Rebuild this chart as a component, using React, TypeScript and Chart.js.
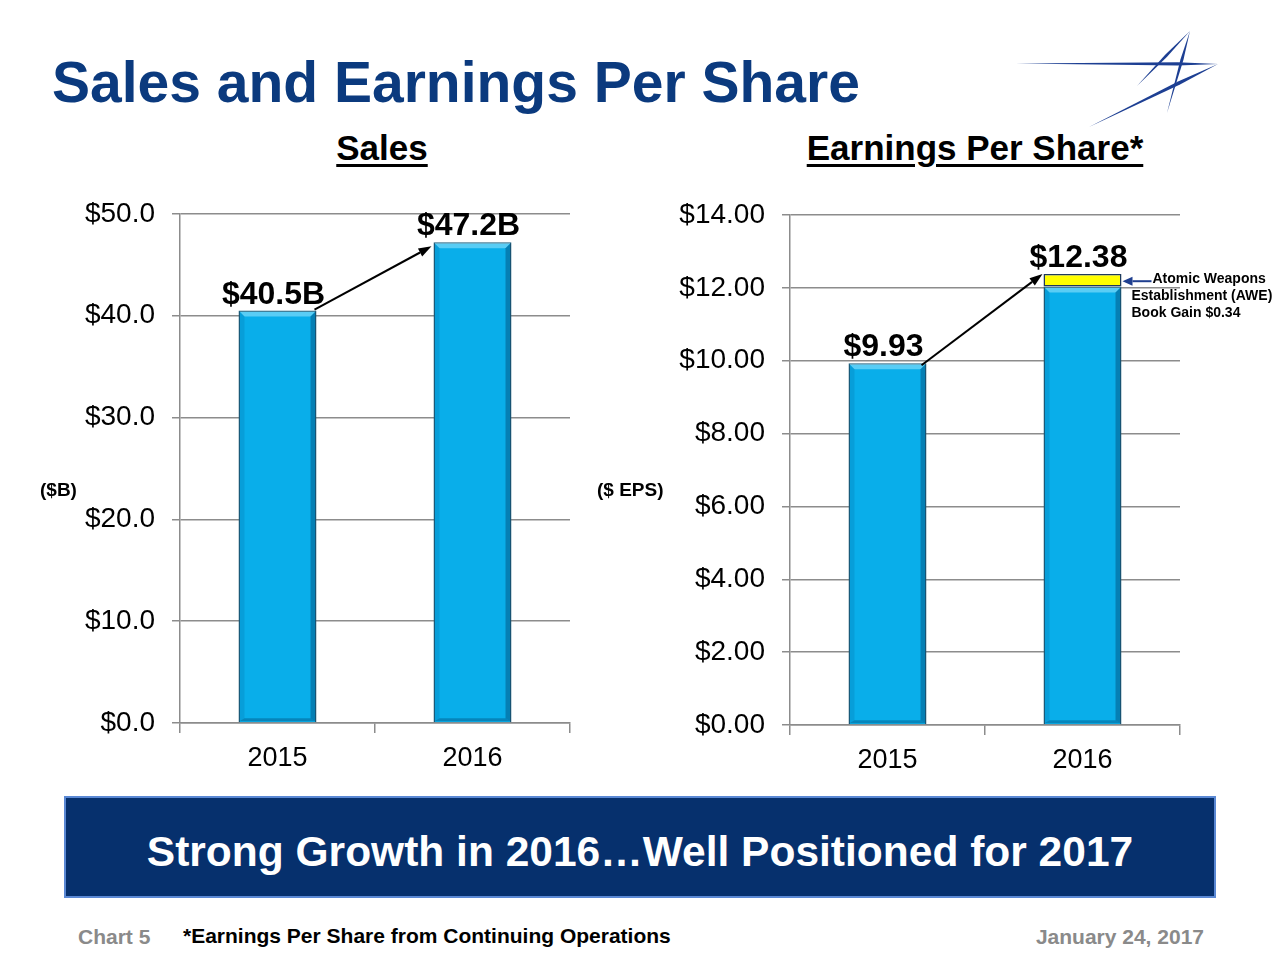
import React, { useEffect, useRef } from 'react';
import { Chart, registerables } from 'chart.js';

Chart.register(...registerables);

const FONT = '"Liberation Sans", Arial, Helvetica, sans-serif';

// ---- Sales data ----
const salesYears = ['2015', '2016'];
const salesValues = [40.5, 47.2];
const salesValueLabels = ['$40.5B', '$47.2B'];
const salesAxisMin = 0;
const salesAxisMax = 50;
const salesAxisStep = 10;

// ---- EPS data ----
const epsYears = ['2015', '2016'];
const epsOperating = [9.93, 12.04];
const epsAweGain = [null, 0.34];
const epsValueLabels = ['$9.93', '$12.38'];
const epsAxisMin = 0;
const epsAxisMax = 14;
const epsAxisStep = 2;
const aweNoteLines = ['Atomic Weapons', 'Establishment (AWE)', 'Book Gain $0.34'];

const BAR_BLUE = '#09aeea';
const BAR_EDGE = '#1c5c7a';
const GRID = '#8c8c8c';

function poly(ctx: CanvasRenderingContext2D, pts: number[][], fill: string) {
  ctx.beginPath();
  ctx.moveTo(pts[0][0], pts[0][1]);
  for (let i = 1; i < pts.length; i++) ctx.lineTo(pts[i][0], pts[i][1]);
  ctx.closePath();
  ctx.fillStyle = fill;
  ctx.fill();
}

function drawBevel(ctx: CanvasRenderingContext2D, x: number, top: number, base: number, w: number) {
  const l = x - w / 2 + 1;
  const r = x + w / 2 - 1;
  const t = top + 1;
  const b = base - 1;
  const s = 5;
  const sb = 3;
  ctx.save();
  poly(ctx, [[l, t], [r, t], [r - s, t + s], [l + s, t + s]], 'rgba(170,235,255,0.5)');
  poly(ctx, [[l, t], [l + s, t + s], [l + s, b - sb], [l, b]], 'rgba(0,70,120,0.15)');
  poly(ctx, [[r, t], [r, b], [r - s, b - sb], [r - s, t + s]], 'rgba(0,40,80,0.35)');
  poly(ctx, [[l, b], [r, b], [r - s, b - sb], [l + s, b - sb]], 'rgba(0,40,80,0.3)');
  ctx.restore();
}

function drawArrow(
  ctx: CanvasRenderingContext2D,
  x1: number, y1: number, x2: number, y2: number,
  color: string, lw: number, headLen: number, headW: number
) {
  const ang = Math.atan2(y2 - y1, x2 - x1);
  const bx = x2 - Math.cos(ang) * headLen;
  const by = y2 - Math.sin(ang) * headLen;
  ctx.save();
  ctx.strokeStyle = color;
  ctx.lineWidth = lw;
  ctx.beginPath();
  ctx.moveTo(x1, y1);
  ctx.lineTo(bx, by);
  ctx.stroke();
  const px = -Math.sin(ang) * headW / 2;
  const py = Math.cos(ang) * headW / 2;
  poly(ctx, [[x2, y2], [bx + px, by + py], [bx - px, by - py]], color);
  ctx.restore();
}

function makeAnnotator(valueLabels: string[], withAwe: boolean, arrowStart: number[], arrowEnd: number[]) {
  return {
    id: 'annotator',
    afterDatasetsDraw(chart: any) {
      const ctx: CanvasRenderingContext2D = chart.ctx;
      const yScale = chart.scales.y;
      const blue = chart.getDatasetMeta(0).data;
      blue.forEach((el: any) => {
        const p = el.getProps(['x', 'y', 'base', 'width'], true);
        drawBevel(ctx, p.x, p.y, p.base, p.width);
      });
      const boxes = blue.map((el: any, i: number) => {
        const p = el.getProps(['x', 'y', 'base', 'width'], true);
        let total = 0;
        chart.data.datasets.forEach((ds: any) => {
          const v = ds.data[i];
          if (v != null) total += v;
        });
        const top = yScale.getPixelForValue(total);
        return { x: p.x, left: p.x - p.width / 2, right: p.x + p.width / 2, top };
      });
      ctx.save();
      ctx.fillStyle = '#000';
      ctx.font = `bold 32px ${FONT}`;
      ctx.textAlign = 'center';
      ctx.textBaseline = 'alphabetic';
      boxes.forEach((b: any, i: number) => {
        ctx.fillText(valueLabels[i], b.x - 4, b.top - 7);
      });
      ctx.restore();
      const a = boxes[0];
      const c = boxes[1];
      drawArrow(ctx, a.right + arrowStart[0], a.top + arrowStart[1], c.left + arrowEnd[0], c.top + arrowEnd[1], '#000', 2, 13, 9);
      if (withAwe) {
        const segEl = chart.getDatasetMeta(1).data[1];
        const sp = segEl.getProps(['y', 'base'], true);
        const my = (sp.y + sp.base) / 2 + 1;
        drawArrow(ctx, c.right + 30, my, c.right + 1, my, '#1f3f8f', 2, 10, 9);
        ctx.save();
        ctx.fillStyle = '#000';
        ctx.font = `bold 14px ${FONT}`;
        ctx.textAlign = 'left';
        ctx.textBaseline = 'middle';
        ctx.fillText(aweNoteLines[0], c.right + 31, my - 2);
        ctx.fillText(aweNoteLines[1], c.right + 10, my + 15);
        ctx.fillText(aweNoteLines[2], c.right + 10, my + 32);
        ctx.restore();
      }
    },
  };
}

function makeOptions(min: number, max: number, step: number, decimals: number, yWidth: number, xHeight: number, padding: any) {
  return {
    responsive: false,
    maintainAspectRatio: false,
    animation: false,
    layout: { padding },
    plugins: { legend: { display: false }, tooltip: { enabled: false } },
    scales: {
      x: {
        stacked: true,
        grid: { display: true, drawOnChartArea: false, drawTicks: true, tickLength: 10, color: GRID, lineWidth: 1.5, offset: true },
        border: { display: true, color: GRID, width: 1.5 },
        ticks: { font: { family: FONT, size: 27 }, color: '#000', padding: 9 },
        afterFit: (s: any) => { s.height = xHeight; },
      },
      y: {
        stacked: true,
        min,
        max,
        ticks: {
          stepSize: step,
          font: { family: FONT, size: 28 },
          color: '#000',
          padding: 17,
          callback: (v: any) => '$' + Number(v).toFixed(decimals),
        },
        grid: { color: GRID, lineWidth: 1.5, tickLength: 8 },
        border: { display: true, color: GRID, width: 1.5 },
        afterFit: (s: any) => { s.width = yWidth; },
      },
    },
  };
}

function SalesChart() {
  const ref = useRef<HTMLCanvasElement>(null);
  useEffect(() => {
    const chart = new Chart(ref.current as HTMLCanvasElement, {
      type: 'bar',
      data: {
        labels: salesYears,
        datasets: [
          {
            data: salesValues,
            backgroundColor: BAR_BLUE,
            borderColor: BAR_EDGE,
            borderWidth: 1.5,
            barPercentage: 0.4,
            categoryPercentage: 1,
          },
        ],
      },
      options: makeOptions(salesAxisMin, salesAxisMax, salesAxisStep, 1, 180, 57, { top: 31, right: 30, bottom: 0, left: 0 }) as any,
      plugins: [makeAnnotator(salesValueLabels, false, [-2, -1], [-2, 4])],
    });
    return () => chart.destroy();
  }, []);
  return <canvas ref={ref} width={600} height={600} style={{ position: 'absolute', left: 0, top: 180, width: 600, height: 600 }} />;
}

function EpsChart() {
  const ref = useRef<HTMLCanvasElement>(null);
  useEffect(() => {
    const chart = new Chart(ref.current as HTMLCanvasElement, {
      type: 'bar',
      data: {
        labels: epsYears,
        datasets: [
          {
            data: epsOperating,
            backgroundColor: BAR_BLUE,
            borderColor: BAR_EDGE,
            borderWidth: 1.5,
            barPercentage: 0.4,
            categoryPercentage: 1,
          },
          {
            data: epsAweGain as any,
            backgroundColor: '#ffff00',
            borderColor: '#1e3a5c',
            borderWidth: 1.5,
            borderSkipped: false,
            barPercentage: 0.4,
            categoryPercentage: 1,
          },
        ],
      },
      options: makeOptions(epsAxisMin, epsAxisMax, epsAxisStep, 2, 180, 55, { top: 35, right: 100, bottom: 0, left: 0 }) as any,
      plugins: [makeAnnotator(epsValueLabels, true, [-5, 2], [-1, 0])],
    });
    return () => chart.destroy();
  }, []);
  return <canvas ref={ref} width={670} height={600} style={{ position: 'absolute', left: 610, top: 180, width: 670, height: 600 }} />;
}

function taper(x1: number, y1: number, x2: number, y2: number, w: number, at: number) {
  const mx = x1 + (x2 - x1) * at;
  const my = y1 + (y2 - y1) * at;
  const len = Math.hypot(x2 - x1, y2 - y1);
  const nx = (-(y2 - y1) / len) * (w / 2);
  const ny = ((x2 - x1) / len) * (w / 2);
  return `${x1},${y1} ${mx + nx},${my + ny} ${x2},${y2} ${mx - nx},${my - ny}`;
}

function Logo() {
  const c = '#1d3f93';
  return (
    <svg width={1280} height={140} style={{ position: 'absolute', left: 0, top: 0 }}>
      <polygon points={taper(1016, 63.5, 1218, 64, 3.2, 0.8)} fill={c} />
      <polygon points={taper(1190, 31, 1137, 86, 2.6, 0.45)} fill={c} />
      <polygon points={taper(1190, 31, 1167, 113, 3, 0.35)} fill={c} />
      <polygon points={taper(1218, 64, 1089, 127, 3.4, 0.3)} fill={c} />
    </svg>
  );
}

const txt = (extra: React.CSSProperties): React.CSSProperties => ({
  position: 'absolute',
  fontFamily: FONT,
  fontWeight: 'bold',
  lineHeight: 1,
  whiteSpace: 'nowrap',
  margin: 0,
  ...extra,
});

export default function App() {
  return (
    <div style={{ position: 'absolute', left: 0, top: 0, width: 1280, height: 960, background: '#fff', overflow: 'hidden' }}>
      <Logo />
      <div style={txt({ left: 52, top: 54, fontSize: 57, color: '#0b3a7e' })}>Sales and Earnings Per Share</div>
      <div style={txt({ left: 282, top: 130, width: 200, textAlign: 'center', fontSize: 35, color: '#000', textDecoration: 'underline', textDecorationThickness: 3, textUnderlineOffset: 4 })}>Sales</div>
      <div style={txt({ left: 775, top: 130, width: 400, textAlign: 'center', fontSize: 35, color: '#000', textDecoration: 'underline', textDecorationThickness: 3, textUnderlineOffset: 4 })}>Earnings Per Share*</div>
      <SalesChart />
      <EpsChart />
      <div style={txt({ left: 40, top: 480, fontSize: 19, color: '#000' })}>($B)</div>
      <div style={txt({ left: 597, top: 480, fontSize: 19, color: '#000' })}>($ EPS)</div>
      <div
        style={{
          position: 'absolute',
          left: 64,
          top: 796,
          width: 1148,
          height: 98,
          background: '#06306d',
          border: '2px solid #5a88d4',
          display: 'flex',
          alignItems: 'center',
          justifyContent: 'center',
          fontFamily: FONT,
          fontWeight: 'bold',
          fontSize: 42.5,
          color: '#fff',
          whiteSpace: 'nowrap',
          boxSizing: 'content-box',
        }}
      >
        <span style={{ position: 'relative', top: 5 }}>Strong Growth in 2016…Well Positioned for 2017</span>
      </div>
      <div style={txt({ left: 78, top: 926, fontSize: 21, color: '#8a8a8a' })}>Chart 5</div>
      <div style={txt({ left: 183, top: 925, fontSize: 21, color: '#000' })}>*Earnings Per Share from Continuing Operations</div>
      <div style={txt({ left: 1004, top: 926, width: 200, textAlign: 'right', fontSize: 21, color: '#8a8a8a' })}>January 24, 2017</div>
    </div>
  );
}
